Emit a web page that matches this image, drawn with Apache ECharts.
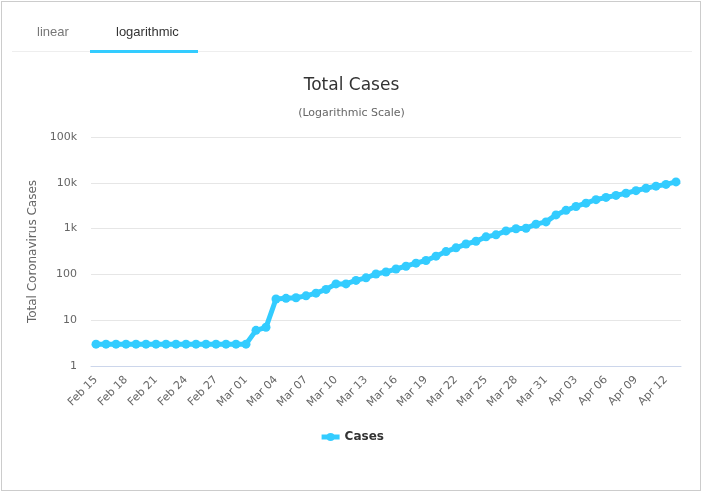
<!DOCTYPE html>
<html lang="en">

<head>
  <meta charset="UTF-8">
  <title>Total Cases</title>
  <style>
    body { margin: 0; font-family: Arial, 'Liberation Sans', sans-serif; }
    #box { position: absolute; left: 1px; top: 1px; width: 698px; height: 488px; border: 1px solid #ccc; }
    #tabs { position: absolute; left: 10px; top: 0; width: 680px; height: 49px; border-bottom: 1px solid #eee; }
    .tab { position: absolute; top: 22px; font-size: 13px; }
    #bar { position: absolute; left: 78px; top: 48px; width: 108px; height: 3px; background: #33ccff; }
    #main { position: absolute; left: 0; top: 0; width: 703px; height: 492px; }
  </style>
</head>

<body>
  <div id="main"></div>
  <div id="box">
    <div id="tabs">
      <span class="tab" style="left:25px;color:#777">linear</span>
      <span class="tab" style="left:104px;color:#333">logarithmic</span>
      <div id="bar"></div>
    </div>
  </div>

  <script src="https://cdn.jsdelivr.net/npm/echarts@6/dist/echarts.min.js"></script>
  <script>
    var days = ['Feb 15', 'Feb 16', 'Feb 17', 'Feb 18', 'Feb 19', 'Feb 20', 'Feb 21', 'Feb 22',
      'Feb 23', 'Feb 24', 'Feb 25', 'Feb 26', 'Feb 27', 'Feb 28', 'Feb 29', 'Mar 01',
      'Mar 02', 'Mar 03', 'Mar 04', 'Mar 05', 'Mar 06', 'Mar 07', 'Mar 08', 'Mar 09',
      'Mar 10', 'Mar 11', 'Mar 12', 'Mar 13', 'Mar 14', 'Mar 15', 'Mar 16', 'Mar 17',
      'Mar 18', 'Mar 19', 'Mar 20', 'Mar 21', 'Mar 22', 'Mar 23', 'Mar 24', 'Mar 25',
      'Mar 26', 'Mar 27', 'Mar 28', 'Mar 29', 'Mar 30', 'Mar 31', 'Apr 01', 'Apr 02',
      'Apr 03', 'Apr 04', 'Apr 05', 'Apr 06', 'Apr 07', 'Apr 08', 'Apr 09', 'Apr 10',
      'Apr 11', 'Apr 12', 'Apr 13']

    var cases = [3, 3, 3, 3, 3, 3, 3, 3, 3, 3, 3, 3, 3, 3, 3, 3,
      6, 7, 29, 30, 31, 34, 39, 47, 62, 62, 74, 84, 102, 113, 131, 151,
      176, 201, 250, 315, 380, 460, 530, 660, 730, 890, 990, 1020, 1250, 1400,
      1990, 2500, 3040, 3590, 4280, 4790, 5310, 5920, 6740, 7600, 8450, 9210, 10450]

    var yTicks = { 1: '1', 10: '10', 100: '100', 1000: '1k', 10000: '10k', 100000: '100k' }

    var myChart = echarts.init(document.getElementById('main'))

    var options = {
      animation: false,
      textStyle: { fontFamily: 'DejaVu Sans' },
      title: {
        text: 'Total Cases',
        subtext: '(Logarithmic Scale)',
        left: 'center',
        top: 72,
        itemGap: 14,
        textStyle: { fontSize: 17, fontWeight: 'normal', color: '#333', fontFamily: 'DejaVu Sans' },
        subtextStyle: { fontSize: 11, color: '#666', fontFamily: 'DejaVu Sans' }
      },
      grid: { left: 91, right: 22, top: 137, bottom: 126 },
      xAxis: {
        type: 'category',
        data: days,
        boundaryGap: true,
        axisLine: { lineStyle: { color: '#ccd6eb' } },
        axisTick: { show: false },
        axisLabel: { rotate: 45, interval: 2, color: '#666', fontSize: 11, margin: 12 }
      },
      yAxis: {
        type: 'log',
        logBase: 10,
        min: 1,
        max: 100000,
        name: 'Total Coronavirus Cases',
        nameLocation: 'middle',
        nameGap: 51,
        nameTextStyle: { color: '#666', fontSize: 12 },
        axisLine: { show: false },
        axisTick: { show: false },
        splitLine: { lineStyle: { color: '#e6e6e6' } },
        axisLabel: {
          color: '#666',
          fontSize: 11,
          margin: 14,
          formatter: function (v) { return yTicks[Math.round(v)] || '' }
        }
      },
      legend: {
        bottom: 44,
        left: 'center',
        itemWidth: 18,
        itemHeight: 10,
        lineStyle: { width: 5 },
        textStyle: { fontWeight: 'bold', color: '#333', fontSize: 12 },
        data: ['Cases']
      },
      series: [
        {
          name: 'Cases',
          type: 'line',
          data: cases,
          symbol: 'circle',
          symbolSize: 9,
          showAllSymbol: true,
          color: '#33ccff',
          lineStyle: { width: 5 }
        }
      ]
    }
    myChart.setOption(options)
  </script>
</body>

</html>
